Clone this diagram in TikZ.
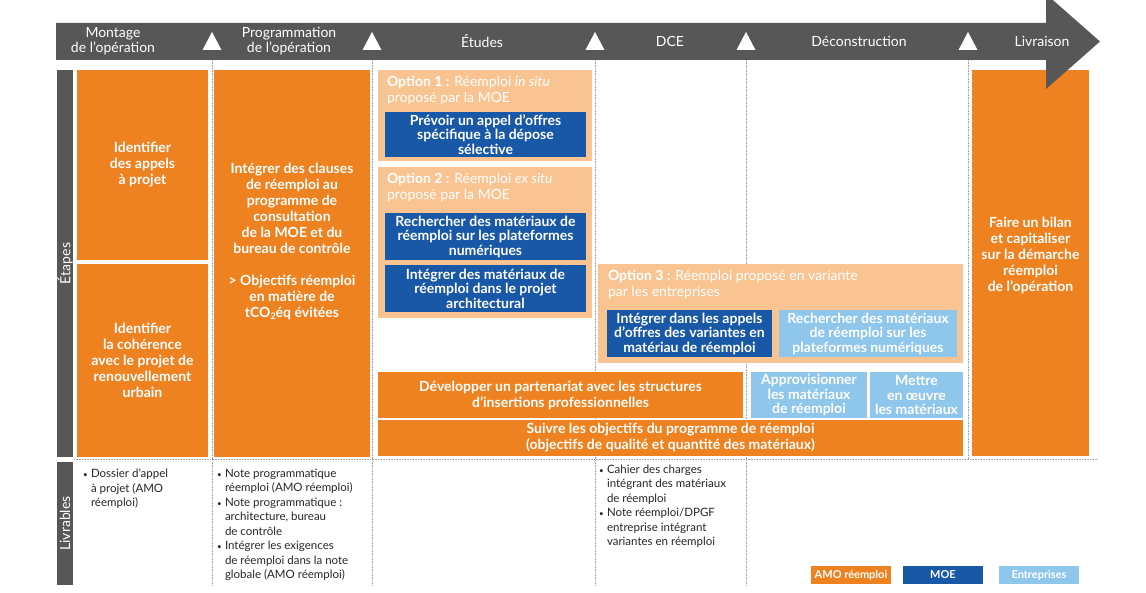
\documentclass[tikz,border=0pt]{standalone}
\usepackage{fontspec}
\setmainfont{Lato}
\usetikzlibrary{positioning}
\definecolor{orangeA}{RGB}{238,129,32}
\definecolor{peachA}{RGB}{249,196,146}
\definecolor{blueA}{RGB}{24,88,166}
\definecolor{lblueA}{RGB}{143,198,236}
\definecolor{barA}{RGB}{87,87,87}
\definecolor{lineA}{RGB}{160,160,160}
\newcommand{\bul}{\makebox[8pt][l]{\fontsize{8}{8}\selectfont•}}
\newcommand{\ind}{\hspace*{8pt}}

\begin{document}
\begin{tikzpicture}[x=1pt,y=-1pt,inner sep=0pt,outer sep=0pt]
  \tikzstyle{box}=[rectangle,anchor=north west,align=center,text=white,font=\bfseries\fontsize{14}{16}\selectfont]
  \tikzstyle{obox}=[box,fill=orangeA]
  \tikzstyle{pbox}=[box,fill=peachA]
  \tikzstyle{bbox}=[box,fill=blueA,font=\bfseries\fontsize{14}{14.5}\selectfont]
  \tikzstyle{lbox}=[box,fill=lblueA,font=\bfseries\fontsize{14}{14.5}\selectfont]
  \tikzstyle{opthead}=[anchor=north west,align=left,text=white,font=\fontsize{14}{16}\selectfont]
  \tikzstyle{phase}=[align=center,text=white,font=\fontsize{14}{15}\selectfont]
  \tikzstyle{side}=[rotate=90,fill=barA,text=white,font=\fontsize{14}{15}\selectfont,minimum height=16pt]
  \tikzstyle{deliv}=[anchor=north west,align=left,text=black!85,font=\fontsize{11.5}{14.5}\selectfont]
  \tikzstyle{legend}=[box,minimum width=80pt,minimum height=18pt,font=\bfseries\fontsize{11}{12}\selectfont]
  \tikzstyle{sep}=[draw=lineA,densely dotted,line width=0.6pt]

  \useasboundingbox (0,0) rectangle (1146,593);

  % separators
  \coordinate (s1t) at (212,60);  \coordinate (s1b) at (212,585);
  \coordinate (s2t) at (372,60);  \coordinate (s2b) at (372,585);
  \coordinate (s3t) at (595,60);  \coordinate (s3b) at (595,585);
  \coordinate (s4t) at (746,60);  \coordinate (s4b) at (746,585);
  \coordinate (s5t) at (968,60);  \coordinate (s5b) at (968,459);
  \coordinate (hl) at (74,459);   \coordinate (hr) at (1098,459);
  \foreach \s in {1,...,5}
    \path[sep] (s\s t) -- (s\s b);
  \path[sep] (hl) -- (hr);

  % side labels
  \node[side,minimum width=387pt] (etapes) at (65,263.5) {Étapes};
  \node[side,minimum width=123pt] (livrables) at (65,523.5) {Livrables};

  % Montage
  \node[obox,minimum width=131pt,minimum height=190pt] (appels) at (77,70)
    {Identifier\\des appels\\à projet};
  \node[obox,minimum width=131pt,minimum height=193pt] (coherence) at (77,264)
    {Identifier\\la cohérence\\avec le projet de\\renouvellement\\urbain};

  % Programmation
  \node[obox,minimum width=156pt,minimum height=387pt] (prog) at (214,70) {};
  \node[box,anchor=center] (progtxt) at ([yshift=22pt]prog.center)
    {Intégrer des clauses\\de réemploi au\\programme de\\consultation\\de la MOE et du\\bureau de contrôle\\[16pt]
     > Objectifs réemploi\\en matière de\\tCO\raisebox{-2pt}{\fontsize{9}{9}\selectfont 2}éq évitées};

  % Etudes
  \node[pbox,minimum width=214pt,minimum height=91pt] (opt1) at (378,70) {};
  \node[opthead,below right=6pt and 9pt of opt1.north west] (opt1h)
    {\textbf{Option 1 :} Réemploi \textit{in situ}\\proposé par la MOE};
  \node[bbox,minimum width=201pt,minimum height=45pt] (depose) at (385,112)
    {Prévoir un appel d’offres\\spécifique à la dépose\\sélective};
  \node[pbox,minimum width=214pt,minimum height=151pt] (opt2) at (378,167) {};
  \node[opthead,below right=6pt and 9pt of opt2.north west] (opt2h)
    {\textbf{Option 2 :} Réemploi \textit{ex situ}\\proposé par la MOE};
  \node[bbox,minimum width=201pt,minimum height=47pt] (recherche) at (385,213)
    {Rechercher des matériaux de\\réemploi sur les plateformes\\numériques};
  \node[bbox,minimum width=201pt,minimum height=47pt] (integrer) at (385,265)
    {Intégrer des matériaux de\\réemploi dans le projet\\architectural};

  % DCE / Deconstruction
  \node[pbox,minimum width=365pt,minimum height=99pt] (opt3) at (598,264) {};
  \node[opthead,below right=6pt and 10pt of opt3.north west] (opt3h)
    {\textbf{Option 3 :} Réemploi proposé en variante\\par les entreprises};
  \node[bbox,minimum width=165pt,minimum height=47pt] (variantes) at (607,310)
    {Intégrer dans les appels\\d’offres des variantes en\\matériau de réemploi};
  \node[lbox,minimum width=178pt,minimum height=47pt] (plateformes) at (779,310)
    {Rechercher des matériaux\\de réemploi sur les\\plateformes numériques};

  \node[obox,minimum width=365pt,minimum height=46pt] (partenariat) at (378,372)
    {Développer un partenariat avec les structures\\d’insertions professionnelles};
  \node[lbox,minimum width=116pt,minimum height=46pt] (approv) at (751,372)
    {Approvisionner\\les matériaux\\de réemploi};
  \node[lbox,minimum width=93pt,minimum height=46pt] (mettre) at (870,372)
    {Mettre\\en œuvre\\les matériaux};
  \node[obox,minimum width=585pt,minimum height=36pt] (suivre) at (378,420)
    {Suivre les objectifs du programme de réemploi\\(objectifs de qualité et quantité des matériaux)};

  % Livraison
  \node[obox,minimum width=117pt,minimum height=386pt] (bilan) at (972,70) {};
  \node[box,anchor=center] (bilantxt) at ([yshift=8pt]bilan.center)
    {Faire un bilan\\et capitaliser\\sur la démarche\\réemploi\\de l’opération};

  % timeline arrow
  \fill[barA] (56,23) -- (1046,23) -- (1046,-6) -- (1100,41.5) -- (1046,89)
    -- (1046,60) -- (56,60) -- cycle;
  \foreach \t in {212,372,595,746,968}
    \fill[white] (\t-9.5,50) -- (\t,32) -- (\t+9.5,50) -- cycle;
  \node[phase] (montage) at (113,41) {Montage\\de l'opération};
  \node[phase] (programmation) at (289,41) {Programmation\\de l'opération};
  \node[phase] (etudes) at (482,41) {Études};
  \node[phase] (dce) at (670,41) {DCE};
  \node[phase] (deconstruction) at (859,41) {Déconstruction};
  \node[phase] (livraison) at (1042,41) {Livraison};

  % livrables
  \node[deliv] (liv1) at (83,469)
    {\bul Dossier d’appel\\\ind à projet (AMO\\\ind réemploi)};
  \node[deliv] (liv2) at (217,469)
    {\bul Note programmatique\\\ind réemploi (AMO réemploi)\\\bul Note programmatique :\\\ind architecture, bureau\\\ind de contrôle\\\bul Intégrer les exigences\\\ind de réemploi dans la note\\\ind globale (AMO réemploi)};
  \node[deliv] (liv3) at (599,465)
    {\bul Cahier des charges\\\ind intégrant des matériaux\\\ind de réemploi\\\bul Note réemploi/DPGF\\\ind entreprise intégrant\\\ind variantes en réemploi};

  % legende
  \node[legend,fill=orangeA] (legamo) at (811,566) {AMO réemploi};
  \node[legend,fill=blueA] (legmoe) at (903,566) {MOE};
  \node[legend,fill=lblueA] (legent) at (999,566) {Entreprises};
\end{tikzpicture}
\end{document}
